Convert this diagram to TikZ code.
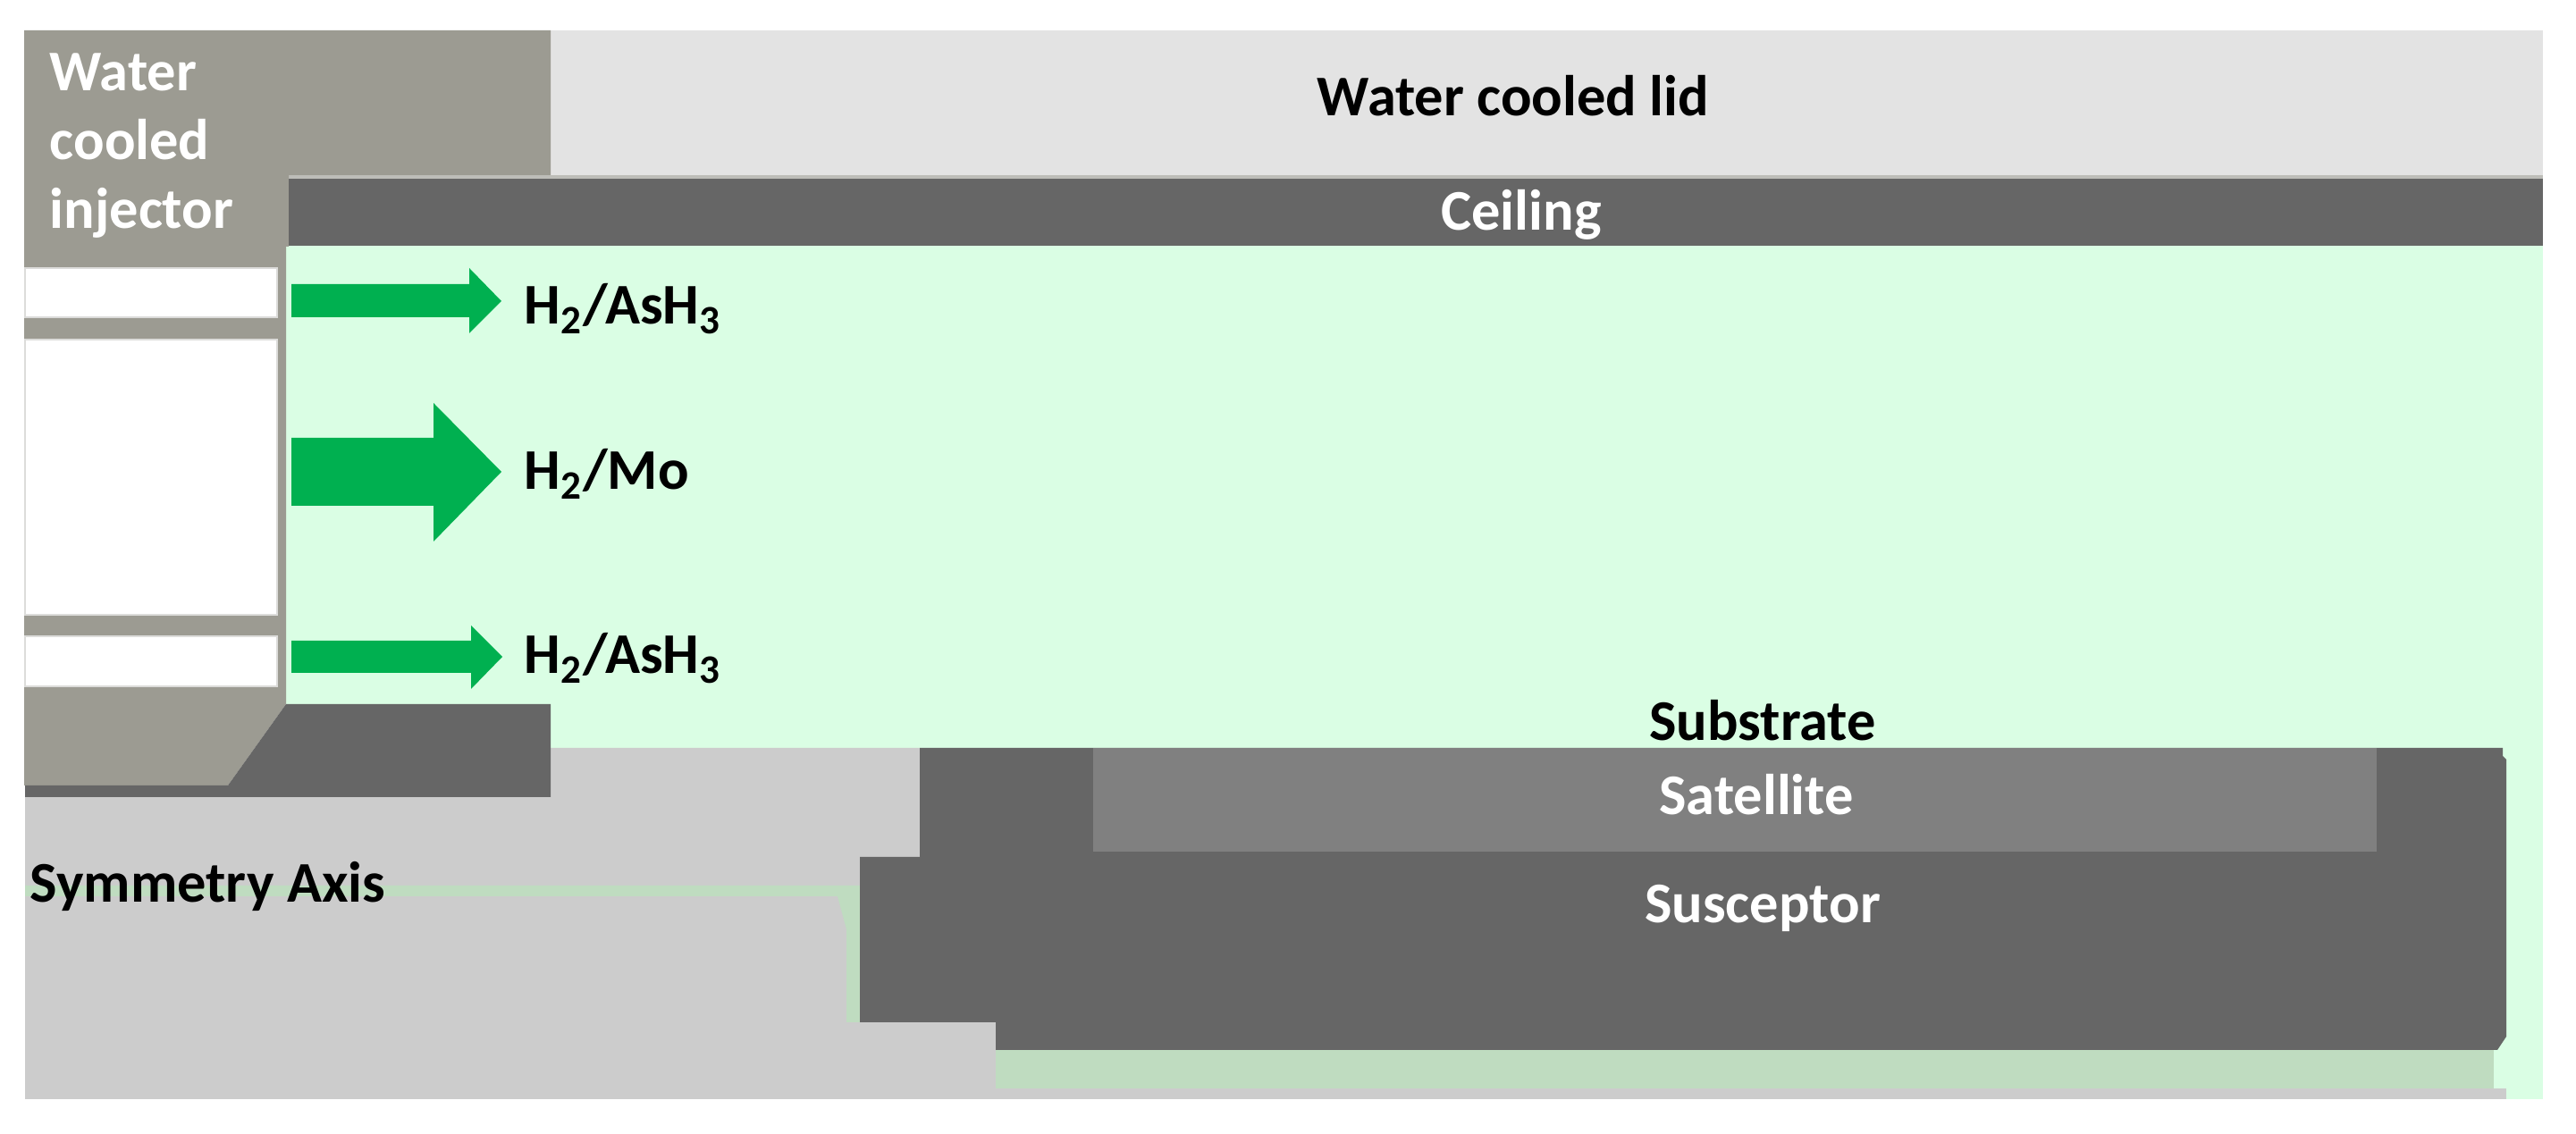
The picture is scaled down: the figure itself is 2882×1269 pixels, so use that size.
\documentclass[tikz,border=0pt]{standalone}
\usepackage{fontspec}
\setmainfont{Carlito}
\definecolor{lidc}{HTML}{E3E3E3}
\definecolor{injc}{HTML}{9C9B92}
\definecolor{darkc}{HTML}{666666}
\definecolor{bgc}{HTML}{DAFEE4}
\definecolor{flowc}{HTML}{00B050}
\definecolor{wallc}{HTML}{CCCCCC}
\definecolor{satc}{HTML}{808080}
\definecolor{stripc}{HTML}{BFDCC0}
\definecolor{edgec}{HTML}{DCDCDA}
\definecolor{rimc}{HTML}{BDBDB8}
\tikzset{
  lab/.style={font=\bfseries\fontsize{16.1}{19}\selectfont,inner sep=0pt,anchor=center},
  wlab/.style={lab,text=white},
  slot/.style={fill=white,draw=edgec,line width=0.35pt},
  flow/.style={fill=flowc}
}
\begin{document}
\begin{tikzpicture}[x=0.25pt,y=-0.25pt]
\useasboundingbox (0,0) rectangle (2882,1269);
\fill[white] (0,0) rectangle (2882,1269);
% process gas volume
\fill[bgc] (320,270) rectangle (2845,1230);
% lid
\fill[lidc] (616,34) rectangle (2845,196);
\fill[rimc] (320,196) rectangle (2845,200);
% injector body
\fill[injc] (27,34) -- (616,34) -- (616,196) -- (323,196) -- (323,276) -- (320,276) -- (320,788) -- (255,879) -- (27,879) -- cycle;
% ceiling
\fill[darkc] (323,200) rectangle (2845,275);
% injector slots
\draw[slot] (28,300) rectangle (310,355);
\draw[slot] (28,380) rectangle (310,688);
\draw[slot] (28,712) rectangle (310,768);
% lower wall
\fill[wallc] (28,892) -- (616,892) -- (616,837) -- (1029,837) -- (1029,959) -- (962,959) -- (962,1144) -- (1114,1144) -- (1114,1230) -- (28,1230) -- cycle;
\fill[wallc] (1114,1218) rectangle (2804,1230);
% purge channels
\fill[stripc] (28,991) -- (962,991) -- (962,1144) -- (947,1144) -- (947,1040) -- (937,1003) -- (28,1003) -- cycle;
\fill[stripc] (1114,1175) rectangle (2790,1218);
% injector lip
\fill[darkc] (320,788) -- (616,788) -- (616,892) -- (28,892) -- (28,879) -- (255,879) -- cycle;
% susceptor
\fill[darkc] (1029,837) -- (2800,837) -- (2800,846) -- (2804,850) -- (2804,1160) -- (2794,1175) -- (1114,1175) -- (1114,1144) -- (962,1144) -- (962,959) -- (1029,959) -- cycle;
% satellite
\fill[satc] (1223,837) rectangle (2659,953);
% gas inlets
\fill[flow] (326,318) -- (525,318) -- (525,300) -- (561,337) -- (525,373) -- (525,355) -- (326,355) -- cycle;
\fill[flow] (326,490) -- (485,490) -- (485,451) -- (561,528) -- (485,606) -- (485,566) -- (326,566) -- cycle;
\fill[flow] (326,717) -- (527,717) -- (527,700) -- (562,735) -- (527,771) -- (527,753) -- (326,753) -- cycle;
% labels
\node[lab] (lid) at (1693,107) {Water cooled lid};
\node[wlab] (ceil) at (1702,240) {Ceiling};
\node[wlab,anchor=base west] (inja) at (55,102) {Water};
\node[wlab,anchor=base west] (injb) at (55,179) {cooled};
\node[wlab,anchor=base west] (injc) at (55,256) {injector};
\node[lab,anchor=base west] (ga) at (586,363) {H\textsubscript{2}/AsH\textsubscript{3}};
\node[lab,anchor=base west] (gb) at (586,548) {H\textsubscript{2}/Mo};
\node[lab,anchor=base west] (gc) at (586,754) {H\textsubscript{2}/AsH\textsubscript{3}};
\node[lab,anchor=base] (sub) at (1972,829) {Substrate};
\node[wlab,anchor=base] (sat) at (1965,912) {Satellite};
\node[wlab,anchor=base] (sus) at (1972,1033) {Susceptor};
\node[lab,anchor=base west] (axis) at (33,1010) {Symmetry Axis};
\end{tikzpicture}
\end{document}
